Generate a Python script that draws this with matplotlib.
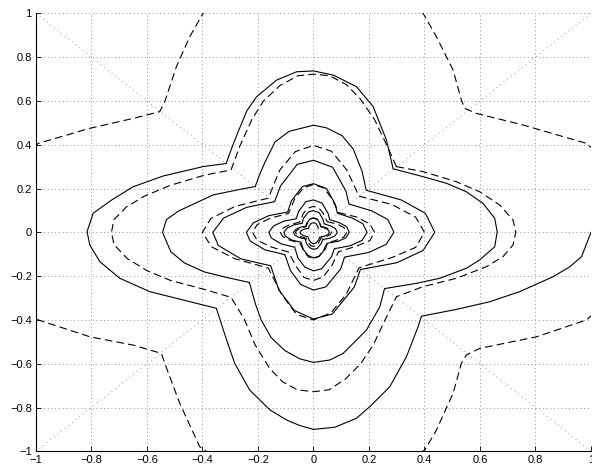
import numpy as np
import matplotlib
matplotlib.use("Agg")
import matplotlib.pyplot as plt

plt.rcParams['font.family'] = ['Liberation Sans', 'DejaVu Sans']
plt.rcParams['lines.scale_dashes'] = False

# solid trajectory, outside -> centre
solid_turn0 = [(1.0, 0.0), (0.966, -0.111), (0.924, -0.157), (0.863, -0.203), (0.743, -0.271),
               (0.635, -0.317), (0.515, -0.352), (0.389, -0.383),
               (0.377, -0.431), (0.335, -0.568), (0.275, -0.705), (0.203, -0.796), (0.155, -0.849),
               (0.077, -0.89), (0.0, -0.9), (-0.05, -0.882), (-0.097, -0.857), (-0.157, -0.811),
               (-0.23, -0.72), (-0.284, -0.598), (-0.313, -0.492), (-0.35, -0.347),
               (-0.47, -0.309), (-0.59, -0.271), (-0.698, -0.21), (-0.77, -0.134), (-0.806, -0.058),
               (-0.816, 0.003), (-0.794, 0.087), (-0.728, 0.147), (-0.65, 0.208), (-0.542, 0.257),
               (-0.398, 0.3), (-0.315, 0.314),
               (-0.291, 0.397), (-0.267, 0.473), (-0.24, 0.555), (-0.205, 0.619), (-0.133, 0.695),
               (-0.061, 0.733), (0.0, 0.737), (0.071, 0.718), (0.155, 0.665), (0.215, 0.574),
               (0.263, 0.421), (0.287, 0.29)]
solid_turn1 = [(0.395, 0.254), (0.479, 0.224), (0.551, 0.185), (0.611, 0.132), (0.653, 0.064),
               (0.662, 0.003), (0.653, -0.066), (0.599, -0.126), (0.551, -0.164), (0.455, -0.21),
               (0.371, -0.233), (0.256, -0.257),
               (0.239, -0.34), (0.191, -0.446), (0.107, -0.553), (0.059, -0.583), (0.0, -0.594),
               (-0.049, -0.578), (-0.103, -0.54), (-0.153, -0.48), (-0.189, -0.399), (-0.209, -0.328),
               (-0.231, -0.229),
               (-0.313, -0.206), (-0.393, -0.181), (-0.465, -0.14), (-0.514, -0.089), (-0.544, 0.0),
               (-0.53, 0.058), (-0.485, 0.098), (-0.361, 0.171), (-0.265, 0.196), (-0.21, 0.209),
               (-0.194, 0.264), (-0.177, 0.314), (-0.139, 0.412), (-0.088, 0.461), (0.0, 0.489),
               (0.047, 0.477), (0.103, 0.441), (0.143, 0.381), (0.175, 0.279), (0.19, 0.192)]
solid_turn2 = [(0.316, 0.148), (0.403, 0.087), (0.437, 0.0), (0.395, -0.083), (0.3, -0.139), (0.169, -0.17),
               (0.147, -0.25), (0.068, -0.373), (0.0, -0.396), (-0.069, -0.357), (-0.125, -0.263), (-0.154, -0.153),
               (-0.262, -0.121), (-0.343, -0.06), (-0.363, 0.0), (-0.324, 0.065), (-0.241, 0.114), (-0.14, 0.14),
               (-0.119, 0.211), (-0.059, 0.31), (0.0, 0.329), (0.069, 0.297), (0.117, 0.188), (0.128, 0.129)]
solid_turn3 = [(0.21, 0.098), (0.268, 0.058), (0.29, 0.0), (0.262, -0.055), (0.199, -0.092), (0.112, -0.113),
               (0.098, -0.167), (0.045, -0.249), (0.0, -0.264), (-0.046, -0.238), (-0.083, -0.175), (-0.103, -0.102),
               (-0.175, -0.08), (-0.228, -0.04), (-0.242, 0.0), (-0.216, 0.044), (-0.161, 0.076), (-0.093, 0.093),
               (-0.08, 0.143), (-0.04, 0.209), (0.0, 0.222), (0.047, 0.2), (0.079, 0.127), (0.086, 0.087)]
solid_turn4 = [(0.14, 0.065), (0.178, 0.039), (0.193, 0.0), (0.175, -0.037), (0.133, -0.061), (0.075, -0.075),
               (0.065, -0.111), (0.03, -0.166), (0.0, -0.176), (-0.031, -0.159), (-0.056, -0.117), (-0.068, -0.068),
               (-0.116, -0.053), (-0.152, -0.026), (-0.161, 0.0), (-0.144, 0.029), (-0.107, 0.051), (-0.062, 0.062),
               (-0.054, 0.095), (-0.027, 0.14), (0.0, 0.148), (0.031, 0.133), (0.053, 0.085), (0.058, 0.058)]
solid_turn5 = [(0.093, 0.044), (0.119, 0.026), (0.129, 0.0), (0.117, -0.025), (0.089, -0.041), (0.05, -0.05),
               (0.044, -0.074), (0.02, -0.11), (0.0, -0.117), (-0.02, -0.105), (-0.037, -0.078), (-0.045, -0.045),
               (-0.077, -0.036), (-0.101, -0.018), (-0.107, 0.0), (-0.095, 0.019), (-0.071, 0.034), (-0.041, 0.041),
               (-0.036, 0.064), (-0.018, 0.093), (0.0, 0.099), (0.021, 0.089), (0.035, 0.057), (0.038, 0.039)]
solid_turn6 = [(0.062, 0.029), (0.079, 0.017), (0.086, 0.0), (0.078, -0.016), (0.059, -0.027), (0.033, -0.033),
               (0.029, -0.049), (0.013, -0.074), (0.0, -0.078), (-0.014, -0.07), (-0.025, -0.052), (-0.03, -0.03),
               (-0.052, -0.024), (-0.068, -0.012), (-0.072, 0.0), (-0.064, 0.013), (-0.048, 0.023), (-0.028, 0.028),
               (-0.024, 0.042), (-0.012, 0.062), (0.0, 0.066), (0.014, 0.06), (0.024, 0.038), (0.026, 0.026)]
solid_turn7 = [(0.041, 0.019), (0.053, 0.011), (0.057, 0.0), (0.052, -0.011), (0.039, -0.018), (0.022, -0.022),
               (0.019, -0.033), (0.009, -0.049), (0.0, -0.052), (-0.009, -0.047), (-0.016, -0.035), (-0.02, -0.02),
               (-0.035, -0.016), (-0.045, -0.008), (-0.048, 0.0), (-0.043, 0.009), (-0.032, 0.015), (-0.018, 0.018),
               (-0.016, 0.028), (-0.008, 0.041), (0.0, 0.044), (0.009, 0.04), (0.016, 0.025), (0.017, 0.017)]

# dashed level curves
dash_outer = [(-1.34, 0.0), (-0.992, 0.406), (-0.806, 0.475), (-0.65, 0.52), (-0.554, 0.551), (-0.536, 0.596),
              (-0.494, 0.756), (-0.446, 0.893), (-0.398, 1.0), (0.0, 1.34), (0.395, 1.0), (0.443, 0.893),
              (0.503, 0.741), (0.533, 0.604), (0.545, 0.566), (0.587, 0.543), (0.755, 0.49), (0.984, 0.406),
              (1.34, 0.0), (0.984, -0.4), (0.804, -0.477), (0.599, -0.53), (0.551, -0.56), (0.533, -0.598),
              (0.503, -0.735), (0.443, -0.903), (0.401, -0.994), (0.0, -1.34), (-0.41, -0.979), (-0.482, -0.781),
              (-0.536, -0.598), (-0.548, -0.553), (-0.65, -0.515), (-0.806, -0.477), (-0.992, -0.4), (-1.34, 0.0)]
dash_l2 = [(0.299, 0.3), (0.395, 0.277), (0.515, 0.231), (0.599, 0.185), (0.671, 0.125), (0.719, 0.056),
           (0.729, 0.0), (0.719, -0.058), (0.683, -0.111), (0.623, -0.157), (0.515, -0.21), (0.395, -0.248),
           (0.299, -0.294), (0.26, -0.395), (0.215, -0.515), (0.17, -0.6), (0.115, -0.67), (0.056, -0.719),
           (0.0, -0.728), (-0.058, -0.719), (-0.111, -0.683), (-0.157, -0.623), (-0.21, -0.515), (-0.25, -0.395),
           (-0.297, -0.297), (-0.395, -0.26), (-0.515, -0.22), (-0.6, -0.175), (-0.671, -0.12), (-0.719, -0.056),
           (-0.728, 0.0), (-0.719, 0.058), (-0.675, 0.115), (-0.61, 0.165), (-0.515, 0.215), (-0.395, 0.26),
           (-0.297, 0.285), (-0.265, 0.395), (-0.222, 0.515), (-0.18, 0.6), (-0.12, 0.671), (-0.056, 0.715),
           (0.0, 0.722), (0.058, 0.715), (0.118, 0.675), (0.168, 0.61), (0.22, 0.515), (0.265, 0.395), (0.299, 0.3)]
dash_l3 = [(0.164, 0.165), (0.283, 0.127), (0.368, 0.069), (0.4, 0.0), (0.368, -0.069), (0.283, -0.115),
           (0.164, -0.162), (0.118, -0.283), (0.063, -0.368), (0.0, -0.4), (-0.061, -0.375), (-0.115, -0.283),
           (-0.163, -0.163), (-0.283, -0.121), (-0.368, -0.066), (-0.4, 0.0), (-0.37, 0.063), (-0.283, 0.118),
           (-0.163, 0.156), (-0.122, 0.283), (-0.066, 0.368), (0.0, 0.397), (0.065, 0.37), (0.121, 0.283),
           (0.164, 0.165)]
dash_l4 = [(0.09, 0.09), (0.155, 0.07), (0.203, 0.038), (0.22, 0.0), (0.203, -0.038), (0.155, -0.063),
           (0.09, -0.089), (0.065, -0.155), (0.035, -0.203), (0.0, -0.22), (-0.034, -0.206), (-0.063, -0.155),
           (-0.09, -0.09), (-0.155, -0.066), (-0.203, -0.036), (-0.22, 0.0), (-0.203, 0.035), (-0.155, 0.065),
           (-0.09, 0.086), (-0.067, 0.155), (-0.036, 0.203), (0.0, 0.218), (0.036, 0.203), (0.066, 0.155),
           (0.09, 0.09)]
dash_l5 = [(0.049, 0.049), (0.085, 0.038), (0.11, 0.021), (0.12, 0.0), (0.11, -0.021), (0.085, -0.035),
           (0.049, -0.049), (0.035, -0.085), (0.019, -0.11), (0.0, -0.12), (-0.019, -0.112), (-0.035, -0.085),
           (-0.049, -0.049), (-0.085, -0.036), (-0.11, -0.02), (-0.12, 0.0), (-0.11, 0.019), (-0.085, 0.035),
           (-0.049, 0.047), (-0.037, 0.085), (-0.02, 0.11), (0.0, 0.119), (0.02, 0.11), (0.036, 0.085),
           (0.049, 0.049)]
dash_l6 = [(0.027, 0.027), (0.046, 0.021), (0.06, 0.011), (0.065, 0.0), (0.06, -0.011), (0.046, -0.019),
           (0.027, -0.027), (0.019, -0.046), (0.01, -0.06), (0.0, -0.065), (-0.01, -0.061), (-0.019, -0.046),
           (-0.027, -0.027), (-0.046, -0.02), (-0.06, -0.011), (-0.065, 0.0), (-0.06, 0.01), (-0.046, 0.019),
           (-0.027, 0.026), (-0.02, 0.046), (-0.011, 0.06), (0.0, 0.065), (0.011, 0.06), (0.02, 0.046),
           (0.027, 0.027)]

ticks = [-1, -0.8, -0.6, -0.4, -0.2, 0, 0.2, 0.4, 0.6, 0.8, 1]
tick_labels = ['\u22121', '\u22120.8', '\u22120.6', '\u22120.4', '\u22120.2', '0',
               '0.2', '0.4', '0.6', '0.8', '1']

fig = plt.figure(figsize=(5.92, 4.67), dpi=100)
ax = fig.add_axes([0.0608, 0.0336, 0.9375, 0.9379])

# switching lines
ax.plot([-1, 1], [1, -1], color='0.55', lw=0.6, linestyle=(0, (0.7, 2.6)))
ax.plot([-1, 1], [-1, 1], color='0.55', lw=0.6, linestyle=(0, (0.7, 2.6)))

solid = np.array(solid_turn0 + solid_turn1 + solid_turn2 + solid_turn3 +
                 solid_turn4 + solid_turn5 + solid_turn6 + solid_turn7)
ax.plot(solid[:, 0], solid[:, 1], color='k', lw=0.8)

for lev in [dash_outer, dash_l2, dash_l3, dash_l4, dash_l5, dash_l6]:
    p = np.array(lev)
    ax.plot(p[:, 0], p[:, 1], color='k', lw=0.8, linestyle=(0, (5.5, 3.0)))

ax.set_xlim(-1, 1)
ax.set_ylim(-1, 1)
ax.set_xticks(ticks)
ax.set_xticklabels(tick_labels)
ax.set_yticks(ticks)
ax.set_yticklabels(tick_labels)
ax.grid(True, color='0.5', lw=0.6, linestyle=(0, (0.7, 2.0)))
ax.spines['top'].set_visible(False)
ax.spines['right'].set_visible(False)
ax.spines['left'].set_linewidth(0.8)
ax.spines['bottom'].set_linewidth(0.8)
ax.tick_params(direction='in', length=3.5, width=0.6, labelsize=8, pad=3)

fig.savefig('out.png', dpi=100)
